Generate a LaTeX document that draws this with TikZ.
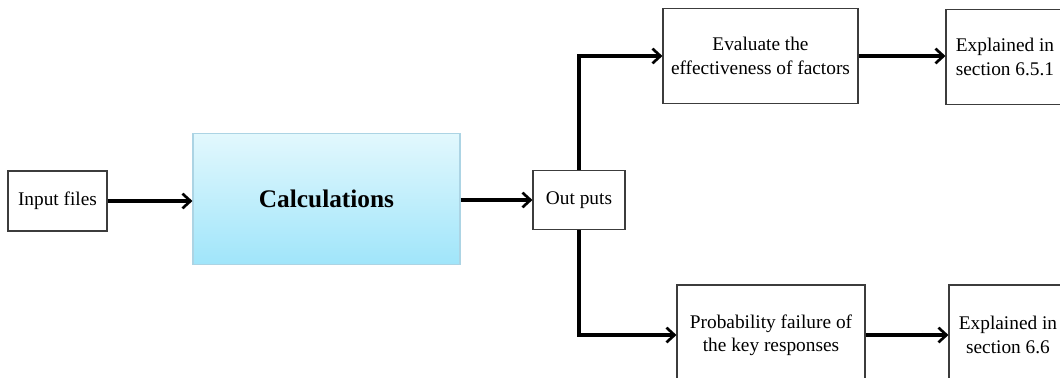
\documentclass[tikz,border=0pt]{standalone}
\usepackage{fontspec}
\setmainfont{Liberation Serif}
\usepackage{xcolor}
\usepackage{tikz}
\usetikzlibrary{arrows.meta,positioning,calc}

\definecolor{calcTop}{RGB}{226,248,253}
\definecolor{calcBot}{RGB}{160,229,250}
\definecolor{calcEdge}{RGB}{172,212,228}
\definecolor{boxEdge}{RGB}{60,60,60}

\begin{document}
\begin{tikzpicture}[x=0.75pt, y=-0.75pt,
    box/.style={draw=boxEdge, line width=0.8pt, align=center, inner sep=0pt,
        font=\fontsize{14.5}{17.5}\selectfont},
    calcbox/.style={draw=calcEdge, line width=0.8pt, top color=calcTop, bottom color=calcBot,
        minimum width=200.25pt, minimum height=98.25pt, font=\fontsize{19}{22}\selectfont\bfseries},
    arrow/.style={-{Straight Barb[length=6pt,width=11pt,line width=2pt]}, line width=2.3pt}
]
    \clip (0,0) rectangle (1060,378);

    \node[box, minimum width=74.25pt, minimum height=45pt] (input) at (57.5,201) {Input files};
    \node[calcbox] (calc) at (326.5,199) {Calculations};
    \node[box, minimum width=69pt, minimum height=44.25pt] (outputs) at (579,200) {Out puts};
    \node[box, minimum width=146.25pt, minimum height=71.25pt] (eval) at (760.5,56) {Evaluate the\\effectiveness of factors};
    \node[box, minimum width=88.5pt, minimum height=71.25pt] (expl1) at (1005,57) {Explained in\\section 6.5.1};
    \node[box, minimum width=141pt, minimum height=75pt] (prob) at (771,335) {Probability failure of\\the key responses};
    \node[box, minimum width=88.5pt, minimum height=75pt] (expl2) at (1008,335) {Explained in\\section 6.6};

    \draw[arrow] (input.east) -- (input.east -| calc.west);
    \draw[arrow] (calc.east |- outputs.west) -- (outputs.west);
    \draw[arrow] (outputs.north) |- (eval.west);
    \draw[arrow] (outputs.south) |- (prob.west);
    \draw[arrow] (eval.east) -- (eval.east -| expl1.west);
    \draw[arrow] (prob.east) -- (prob.east -| expl2.west);
\end{tikzpicture}
\end{document}
